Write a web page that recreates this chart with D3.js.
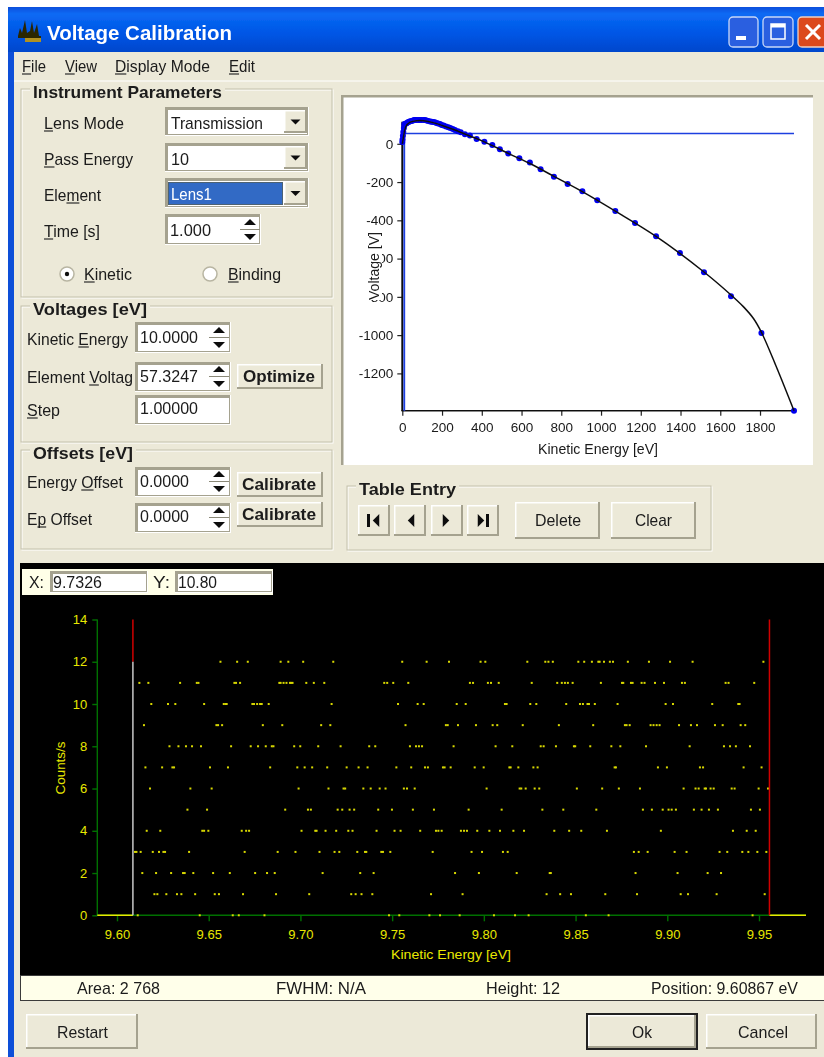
<!DOCTYPE html>
<html lang="en">
<head>
<meta charset="UTF-8">
<title>Voltage Calibration</title>
<script src="https://d3js.org/d3.v7.min.js"></script>
<style>
  html, body { margin: 0; padding: 0; background: #fff; }
  svg { display: block; }
  text { font-family: "Liberation Sans", sans-serif; }
</style>
</head>
<body>
<div id="chart"></div>
<script>
// lens table, upper plot
const tableEnergy = [0, 1, 3, 5, 8, 10, 14, 18, 22, 28, 34, 40, 47, 54, 60, 66, 72, 80, 88, 96, 106, 114, 122, 131, 140, 148, 156, 164, 172, 180, 190, 198, 208, 220, 232, 242, 254, 265, 280, 294, 315, 340, 374, 413, 453, 491, 533, 589, 642, 696, 763, 832, 906, 981, 1072, 1171, 1277, 1397, 1518, 1654, 1807, 1971];
const tableVoltage = [10, 22, 42, 62, 82, 102, 104, 106, 107, 112, 115, 118, 119, 122, 124, 125, 125, 125, 125, 125, 125, 124, 122, 119, 117, 115, 114, 112, 109, 106, 103, 98, 95, 90, 86, 82, 77, 72, 66, 60, 50, 43, 25, 11, -6, -29, -51, -76, -98, -133, -172, -210, -248, -295, -351, -414, -483, -571, -672, -797, -989, -1395];
const fitEnergy = [0, 5, 12, 22, 40, 72, 106, 150, 200, 265, 340, 413, 533, 642, 763, 906, 1072, 1277, 1518, 1654, 1716, 1767, 1807, 1880, 1971];
const fitVoltage = [0, 30, 70, 98, 113, 121, 121, 112, 96, 72, 41, 10, -50, -103, -170, -250, -352, -484, -670, -790, -851, -913, -985, -1160, -1395];
const cursorEnergy = 10;
const cursorVoltage = 54;
const upperXTicks = [0, 200, 400, 600, 800, 1000, 1200, 1400, 1600, 1800];
const upperYTicks = [0, -200, -400, -600, -800, -1000, -1200];

// spectrum, lower plot: energies of the points found at each count level
const at0 = [9.6113, 9.6451, 9.6631, 9.6664, 9.6804, 9.7483, 9.7539, 9.7703, 9.7761, 9.7868, 9.8055, 9.8170, 9.8244, 9.8556, 9.8680, 9.9465];
const at1 = [9.6204, 9.6220, 9.6269, 9.6327, 9.6351, 9.6426, 9.6533, 9.6556, 9.6687, 9.6867, 9.7048, 9.7277, 9.7301, 9.7333, 9.7392, 9.7712, 9.7884, 9.8342, 9.8416, 9.8475, 9.8662, 9.8835, 9.9073, 9.9113, 9.9269, 9.9531];
const at2 = [9.6138, 9.6213, 9.6295, 9.6360, 9.6369, 9.6416, 9.6524, 9.6615, 9.6753, 9.6818, 9.6860, 9.7121, 9.7326, 9.7399, 9.7843, 9.7973, 9.8179, 9.8359, 9.8365, 9.8827, 9.9056, 9.9220, 9.9293];
const at3 = [9.6098, 9.6106, 9.6129, 9.6195, 9.6229, 9.6253, 9.6262, 9.6393, 9.6696, 9.6876, 9.6973, 9.7104, 9.7186, 9.7212, 9.7310, 9.7352, 9.7359, 9.7441, 9.7450, 9.7490, 9.7721, 9.7933, 9.7990, 9.8104, 9.8130, 9.8818, 9.8844, 9.8893, 9.9040, 9.9105, 9.9285, 9.9327, 9.9409, 9.9442, 9.9491, 9.9540];
const at4 = [9.6162, 9.6236, 9.6465, 9.6475, 9.6498, 9.6680, 9.6704, 9.6720, 9.7006, 9.7081, 9.7088, 9.7137, 9.7195, 9.7261, 9.7284, 9.7415, 9.7513, 9.7546, 9.7653, 9.7739, 9.7752, 9.7770, 9.7875, 9.7892, 9.7908, 9.7964, 9.8030, 9.8088, 9.8161, 9.8219, 9.8384, 9.8465, 9.8531, 9.8671, 9.8965, 9.9358, 9.9433, 9.9482];
const at5 = [9.6384, 9.6491, 9.6917, 9.7041, 9.7057, 9.7203, 9.7228, 9.7268, 9.7293, 9.7424, 9.7499, 9.7613, 9.7728, 9.7917, 9.8097, 9.8319, 9.8433, 9.8613, 9.8867, 9.8916, 9.8975, 9.9007, 9.9024, 9.9047, 9.9145, 9.9187, 9.9227, 9.9276, 9.9456, 9.9505];
const at6 = [9.6180, 9.6400, 9.6516, 9.6990, 9.7153, 9.7235, 9.7244, 9.7343, 9.7383, 9.7432, 9.7464, 9.7564, 9.7581, 9.7623, 9.8015, 9.8195, 9.8204, 9.8228, 9.8277, 9.8302, 9.8507, 9.8645, 9.8736, 9.8851, 9.9089, 9.9154, 9.9171, 9.9204, 9.9211, 9.9236, 9.9253, 9.9351, 9.9367, 9.9498, 9.9549];
const at7 = [9.6155, 9.6246, 9.6302, 9.6311, 9.6507, 9.6605, 9.6835, 9.6983, 9.7023, 9.7064, 9.7146, 9.7252, 9.7317, 9.7366, 9.7523, 9.7604, 9.7679, 9.7695, 9.7777, 9.7786, 9.7819, 9.7950, 9.7999, 9.8139, 9.8146, 9.8188, 9.8270, 9.8293, 9.8713, 9.8720, 9.8949, 9.8998, 9.9178, 9.9195, 9.9416, 9.9514];
const at8 = [9.6286, 9.6335, 9.6376, 9.6409, 9.6458, 9.6622, 9.6729, 9.6769, 9.6811, 9.6844, 9.6853, 9.6966, 9.6999, 9.7097, 9.7219, 9.7375, 9.7408, 9.7597, 9.7630, 9.7646, 9.7663, 9.7835, 9.8064, 9.8155, 9.8310, 9.8326, 9.8393, 9.8491, 9.8498, 9.8580, 9.8695, 9.8744, 9.8884, 9.9122, 9.9309, 9.9342, 9.9374, 9.9451];
const at9 = [9.6147, 9.6542, 9.6551, 9.6573, 9.6795, 9.6901, 9.7113, 9.7163, 9.7573, 9.7793, 9.7803, 9.7859, 9.7957, 9.8048, 9.8073, 9.8212, 9.8409, 9.8596, 9.8769, 9.8778, 9.8795, 9.8909, 9.8925, 9.8942, 9.8958, 9.9064, 9.9129, 9.9162, 9.9260, 9.9302, 9.9400, 9.9425];
const at10 = [9.6187, 9.6278, 9.6318, 9.6475, 9.6582, 9.6591, 9.6598, 9.6738, 9.6747, 9.6764, 9.6780, 9.6789, 9.6827, 9.7170, 9.7532, 9.7639, 9.7672, 9.7852, 9.7901, 9.8115, 9.8124, 9.8253, 9.8286, 9.8449, 9.8524, 9.8540, 9.8565, 9.8573, 9.8605, 9.8729, 9.8991, 9.9031, 9.9245, 9.9387, 9.9394];
const at11 = [9.6122, 9.6171, 9.6344, 9.6435, 9.6444, 9.6640, 9.6649, 9.6671, 9.6885, 9.6892, 9.6908, 9.6924, 9.6943, 9.6950, 9.6957, 9.7032, 9.7073, 9.7130, 9.7457, 9.7473, 9.7506, 9.7588, 9.7924, 9.7941, 9.8022, 9.8039, 9.8081, 9.8261, 9.8400, 9.8425, 9.8442, 9.8458, 9.8484, 9.8638, 9.8753, 9.8760, 9.8802, 9.8811, 9.8860, 9.8876, 9.8933, 9.8982, 9.9080, 9.9096, 9.9318, 9.9334, 9.9474];
const at12 = [9.6564, 9.6655, 9.6713, 9.6892, 9.6934, 9.7015, 9.7179, 9.7555, 9.7688, 9.7810, 9.7982, 9.8008, 9.8237, 9.8335, 9.8352, 9.8376, 9.8515, 9.8547, 9.8589, 9.8624, 9.8631, 9.8655, 9.8687, 9.8704, 9.8785, 9.8900, 9.9015, 9.9138, 9.9524];
const levels = [at0, at1, at2, at3, at4, at5, at6, at7, at8, at9, at10, at11, at12];
const leftMarker = 9.60867;
const rightMarker = 9.9557;
const peakHeight = 12;
const lowerXTicks = [9.60, 9.65, 9.70, 9.75, 9.80, 9.85, 9.90, 9.95];
const lowerYTicks = [0, 2, 4, 6, 8, 10, 12, 14];

const face = "#ECE9D8", shade = "#A5A28F", ink = "#1a1a1a";

const svg = d3.select("#chart").append("svg")
    .attr("width", 824)
    .attr("height", 1057);

const defs = svg.append("defs");
const soft = defs.append("filter").attr("id", "soft").attr("x", "-2%").attr("y", "-2%").attr("width", "104%").attr("height", "104%");
soft.append("feGaussianBlur").attr("stdDeviation", 0.45);
const bar = defs.append("linearGradient").attr("id", "titlebar").attr("x1", 0).attr("x2", 0).attr("y1", 0).attr("y2", 1);
bar.append("stop").attr("offset", "0").attr("stop-color", "#0A4FDC");
bar.append("stop").attr("offset", "0.15").attr("stop-color", "#0A6AF4");
bar.append("stop").attr("offset", "0.6").attr("stop-color", "#0055E5");
bar.append("stop").attr("offset", "1").attr("stop-color", "#0047CC");

const ui = svg.append("g").attr("filter", "url(#soft)");

function rect(x, y, w, h, fill, parent) {
    return (parent || ui).append("rect").attr("x", x).attr("y", y).attr("width", w).attr("height", h).attr("fill", fill);
}
function line(x1, y1, x2, y2, color, width, parent) {
    return (parent || ui).append("line").attr("x1", x1).attr("y1", y1).attr("x2", x2).attr("y2", y2)
        .attr("stroke", color).attr("stroke-width", width || 1);
}
// "&" in front of a letter marks the underlined mnemonic
function label(x, y, str, w, opts) {
    opts = opts || {};
    const at = str.indexOf("&");
    const t = (opts.parent || ui).append("text").attr("x", x).attr("y", y)
        .attr("font-size", opts.size || 17)
        .attr("font-weight", opts.bold ? "bold" : "normal")
        .attr("fill", opts.fill || ink)
        .text(str.replace("&", ""));
    if (w) t.attr("textLength", w).attr("lengthAdjust", "spacingAndGlyphs");
    if (at >= 0) {
        const n = t.node();
        line(n.getStartPositionOfChar(at).x, y + 2, n.getEndPositionOfChar(at).x, y + 2, ink, 1.1, opts.parent);
    }
    return t;
}
function raised(x, y, w, h) {
    rect(x, y, w, h, shade);
    rect(x, y, w - 2, h - 2, "#fff");
    rect(x + 1.5, y + 1.5, w - 3.5, h - 3.5, face);
}
function sunken(x, y, w, h, fill) {
    rect(x, y, w, h, "#fff");
    rect(x, y, w - 1, h - 1, shade);
    rect(x + 3, y + 3, w - 5, h - 5, fill || "#fff");
}
function groupBox(x, y, w, h, title, titleW) {
    ui.append("rect").attr("x", x + 1).attr("y", y + 1).attr("width", w).attr("height", h).attr("fill", "none").attr("stroke", "#fff").attr("stroke-width", 1);
    ui.append("rect").attr("x", x).attr("y", y).attr("width", w).attr("height", h).attr("fill", "none").attr("stroke", "#C4C1AC").attr("stroke-width", 1);
    rect(x + 9, y - 3, titleW + 6, 7, face);
    label(x + 12, y + 9, title, titleW, { bold: true });
}
function triangle(cx, cy, size, dir, horizontal) {
    const pts = horizontal
        ? [[cx - dir * size / 2, cy - size], [cx - dir * size / 2, cy + size], [cx + dir * size / 2, cy]]
        : [[cx - size, cy - dir * size / 2], [cx + size, cy - dir * size / 2], [cx, cy + dir * size / 2]];
    ui.append("path").attr("d", d3.line()(pts) + "Z").attr("fill", "#111");
}
function combo(x, y, w, h, str, strW, selected) {
    sunken(x, y, w, h, "#fff");
    if (selected) {
        rect(x + 3, y + 4, w - 29, h - 7, "#316AC5");
        ui.append("rect").attr("x", x + 3.5).attr("y", y + 4.5).attr("width", w - 30).attr("height", h - 8)
            .attr("fill", "none").attr("stroke", "#6b5a20").attr("stroke-dasharray", "1,1");
    }
    raised(x + w - 25, y + 3, 23, h - 6);
    triangle(x + w - 13.5, y + h / 2 + 0.5, 5, 1);
    label(x + 6, y + 22, str, strW, { fill: selected ? "#fff" : ink });
}
function spin(x, y, h) {
    const mid = y + h / 2;
    line(x + 1, mid, x + 21, mid, "#8b8978", 1);
    triangle(x + 11, mid - 7.5, 6, -1);
    triangle(x + 11, mid + 7.5, 6, 1);
}
function button(x, y, w, h, str, tx, tw, base, bold) {
    raised(x, y, w, h);
    label(tx, base, str, tw, { bold: bold });
}

// window frame
rect(8, 7, 816, 1050, "#0A50D8");
rect(14, 52, 810, 1005, face);
ui.append("path").attr("d", "M8 14 Q8 7 15 7 L824 7 L824 52 L8 52 Z").attr("fill", "url(#titlebar)");

// window icon
ui.append("path")
    .attr("d", "M18 36 L20 28 L22 33 L25 20 L27 33 L30 31 L32 21 L34 33 L37 24 L39 36 L41 36 L41 38 L18 38 Z")
    .attr("fill", "#2a2505");
rect(25, 38, 16, 4, "#B09020");
label(47, 40, "Voltage Calibration", 185, { bold: true, size: 20, fill: "#fff" });

// caption buttons
[[729, 29], [763, 30]].forEach(function(b) {
    ui.append("rect").attr("x", b[0]).attr("y", 17).attr("width", b[1]).attr("height", 30).attr("rx", 4)
        .attr("fill", "#2A5FE0").attr("stroke", "#C8D8F8").attr("stroke-width", 1.3);
});
rect(736, 36, 10, 4, "#fff");
ui.append("rect").attr("x", 771).attr("y", 24).attr("width", 14).attr("height", 15).attr("fill", "none").attr("stroke", "#fff").attr("stroke-width", 1.5);
rect(771, 24, 14, 3.5, "#fff");
ui.append("rect").attr("x", 798).attr("y", 17).attr("width", 30).attr("height", 30).attr("rx", 4)
    .attr("fill", "#DC4A1E").attr("stroke", "#F0D0C0").attr("stroke-width", 1.3);
line(806, 25, 820, 39, "#fff", 3);
line(820, 25, 806, 39, "#fff", 3);

// menu
label(22, 72, "&File", 24);
label(65, 72, "&View", 32);
label(115, 72, "&Display Mode", 95);
label(229, 72, "&Edit", 26);
line(14, 81, 824, 81, "#fff", 1);

// instrument parameters
groupBox(21, 89, 311, 208, "Instrument Parameters", 189);
label(44, 129, "&Lens Mode", 80);
label(44, 165, "&Pass Energy", 89);
label(44, 201, "Ele&ment", 57);
label(44, 237, "&Time [s]", 56);
combo(165, 107, 144, 29, "Transmission", 92);
combo(165, 143, 144, 29, "10", 18);
combo(165, 178, 144, 30, "Lens1", 41, true);
sunken(165, 214, 96, 31);
label(170, 236, "1.000", 41);
spin(239, 215, 29);

ui.append("circle").attr("cx", 67).attr("cy", 274).attr("r", 7).attr("fill", "#fff").attr("stroke", "#B8B5A2").attr("stroke-width", 1.5);
ui.append("circle").attr("cx", 67).attr("cy", 274).attr("r", 2.2).attr("fill", "#111");
label(84, 280, "&Kinetic", 48);
ui.append("circle").attr("cx", 210).attr("cy", 274).attr("r", 7).attr("fill", "#fff").attr("stroke", "#B8B5A2").attr("stroke-width", 1.5);
label(228, 280, "&Binding", 53);

// voltages
groupBox(21, 306, 311, 136, "Voltages [eV]", 114);
label(27, 345, "Kinetic &Energy", 101);
label(27, 383, "Element &Voltag", 106);
label(27, 416, "&Step", 33);
sunken(135, 322, 96, 31);
label(140, 343, "10.0000", 58);
spin(208, 323, 29);
sunken(135, 362, 96, 30);
label(140, 382, "57.3247", 58);
spin(208, 362, 29);
sunken(135, 395, 96, 30);
label(140, 414, "1.00000", 58);
button(237, 364, 86, 25, "Optimize", 243, 72, 382, true);

// offsets
groupBox(21, 450, 311, 99, "Offsets [eV]", 100);
label(27, 488, "Energy &Offset", 96);
label(27, 525, "E&p Offset", 65);
sunken(135, 467, 96, 30);
label(140, 487, "0.0000", 49);
spin(208, 467, 29);
sunken(135, 503, 96, 30);
label(140, 522, "0.0000", 49);
spin(208, 503, 29);
button(237, 472, 86, 25, "Calibrate", 242, 74, 490, true);
button(237, 502, 86, 25, "Calibrate", 242, 74, 520, true);

// table entry
groupBox(347, 486, 364, 64, "Table Entry", 97);
[358, 394, 431, 467].forEach(function(x) { raised(x, 505, 32, 31); });
rect(367, 514, 3, 13, "#111");
triangle(376, 520.5, 6.5, -1, true);
triangle(411, 520.5, 6.5, -1, true);
triangle(446, 520.5, 6.5, 1, true);
triangle(481, 520.5, 6.5, 1, true);
rect(486, 514, 3, 13, "#111");
button(515, 502, 85, 37, "Delete", 535, 46, 526);
button(611, 502, 85, 37, "Clear", 635, 37, 526);

// spectrum window
rect(20, 563, 804, 412, "#000");
rect(22, 569, 251, 26, "#FFFFE8");
sunken(50, 571, 98, 22);
label(29, 588, "X:", 15);
label(53, 588, "9.7326", 49);
sunken(175, 571, 98, 22);
label(153, 588, "Y:", 17);
label(178, 588, "10.80", 39);

// status bar
rect(20, 975, 804, 26, "#3a3a3a");
rect(21, 976, 803, 24, "#FFFFEA");
label(77, 994, "Area: 2 768", 83);
label(276, 994, "FWHM: N/A", 90);
label(486, 994, "Height: 12", 74);
label(651, 994, "Position: 9.60867 eV", 147);

// dialog buttons
button(26, 1014, 112, 35, "Restart", 57, 51, 1038);
rect(586, 1013, 112, 37, "#222");
raised(588, 1015, 108, 33);
label(632, 1038, "Ok", 20);
button(706, 1014, 111, 35, "Cancel", 738, 50, 1038);

// upper plot
rect(341, 95, 472, 370, shade);
rect(343.5, 97.5, 469.5, 367.5, "#fff");
const upper = svg.append("g").attr("filter", "url(#soft)");

const xUp = d3.scaleLinear().domain([0, 1971]).range([402.3, 794]);
const yUp = d3.scaleLinear().domain([0, -1395]).range([143.8, 410.7]);
const topVolt = 115;

const yAxisUp = d3.axisLeft(yUp).tickValues(upperYTicks).tickSize(5).tickPadding(4).tickFormat(String);
const xAxisUp = d3.axisBottom(xUp).tickValues(upperXTicks).tickSize(5).tickPadding(7).tickFormat(String);

const yG = upper.append("g").attr("transform", "translate(402.3,0)").call(yAxisUp);
const xG = upper.append("g").attr("transform", "translate(0,410.7)").call(xAxisUp);
[yG, xG].forEach(function(g) {
    g.select(".domain").remove();
    g.selectAll("line").attr("stroke", "#222").attr("stroke-width", 1.2);
    g.selectAll("text").attr("font-size", 13.5).attr("fill", ink);
});
line(402.3, yUp(topVolt), 402.3, 411, "#111", 2, upper);
line(401.5, 410.7, 794, 410.7, "#111", 1.5, upper);

// the axis title sits on a blank patch that hides the front of two tick labels, as in the original
rect(360, 232, 22, 68, "#fff", upper);
upper.append("text").attr("transform", "translate(378.5,266) rotate(-90)")
    .attr("text-anchor", "middle").attr("font-size", 14).attr("fill", ink)
    .attr("textLength", 68).attr("lengthAdjust", "spacingAndGlyphs").text("Voltage [V]");
label(538, 454, "Kinetic Energy [eV]", 120, { size: 14, parent: upper });

// cursor lines
line(xUp(cursorEnergy), yUp(topVolt), xUp(cursorEnergy), 410.7, "#1F3FE0", 1.8, upper);
line(xUp(cursorEnergy), yUp(cursorVoltage), 794, yUp(cursorVoltage), "#1F3FE0", 1.4, upper);

const upperPts = tableEnergy.map(function(e, i) { return { e: e, v: tableVoltage[i] }; });
upper.selectAll(".tablePt").data(upperPts).enter().append("circle")
    .attr("class", "tablePt")
    .attr("cx", function(d) { return xUp(d.e); })
    .attr("cy", function(d) { return yUp(d.v); })
    .attr("r", 3)
    .attr("fill", "#0000F0");

const fitLine = d3.line()
    .x(function(d) { return xUp(d.e); })
    .y(function(d) { return yUp(d.v); })
    .curve(d3.curveCatmullRom);
upper.append("path")
    .datum(fitEnergy.map(function(e, i) { return { e: e, v: fitVoltage[i] }; }))
    .attr("d", fitLine)
    .attr("fill", "none")
    .attr("stroke", "#111")
    .attr("stroke-width", 1.5);

// lower plot
const lower = svg.append("g");
const xLow = d3.scaleLinear().domain([9.60, 9.95]).range([117, 759]);
const yLow = d3.scaleLinear().domain([0, 14]).range([915.3, 619.5]);
const leftEdge = 97.3, rightEdge = 806;

const yAxisLow = d3.axisLeft(yLow).tickValues(lowerYTicks).tickSize(5).tickPadding(5);
const xAxisLow = d3.axisBottom(xLow).tickValues(lowerXTicks).tickSize(6).tickPadding(8).tickFormat(d3.format(".2f"));
const yGL = lower.append("g").attr("transform", "translate(" + leftEdge + ",0)").call(yAxisLow);
const xGL = lower.append("g").attr("transform", "translate(0,915.3)").call(xAxisLow);
[yGL, xGL].forEach(function(g) {
    g.select(".domain").attr("stroke", "#007000").attr("stroke-width", 1.4);
    g.selectAll("line").attr("stroke", "#007000").attr("stroke-width", 1.4);
    g.selectAll("text").attr("font-size", 13).attr("fill", "#E8E800");
});
yGL.select(".domain").attr("d", "M0," + yLow(14) + "V" + yLow(0));
xGL.select(".domain").attr("d", "M" + leftEdge + ",0H" + rightEdge);

lower.append("text").attr("transform", "translate(65,768) rotate(-90)")
    .attr("text-anchor", "middle").attr("font-size", 13).attr("fill", "#E8E800")
    .attr("textLength", 53).attr("lengthAdjust", "spacingAndGlyphs").text("Counts/s");
label(391, 959, "Kinetic Energy [eV]", 120, { size: 13, fill: "#E8E800", parent: lower });

const points = [];
levels.forEach(function(list, count) {
    list.forEach(function(e) { points.push({ e: e, c: count }); });
});
lower.selectAll(".count").data(points).enter().append("rect")
    .attr("class", "count")
    .attr("x", function(d) { return xLow(d.e) - 1; })
    .attr("y", function(d) { return yLow(d.c) - 1; })
    .attr("width", 2)
    .attr("height", 2)
    .attr("fill", "#D8D800");

// integration markers and the flat stretches outside them
line(leftEdge, 915.3, xLow(leftMarker), 915.3, "#E8E800", 1.5, lower);
line(xLow(rightMarker), 915.3, rightEdge, 915.3, "#E8E800", 1.5, lower);
line(xLow(leftMarker), yLow(14), xLow(leftMarker), yLow(peakHeight), "#D00000", 1.5, lower);
line(xLow(leftMarker), yLow(peakHeight), xLow(leftMarker), 915.3, "#C8C8C8", 1.5, lower);
line(xLow(rightMarker), yLow(14), xLow(rightMarker), 915.3, "#D00000", 1.5, lower);
</script>
</body>
</html>
